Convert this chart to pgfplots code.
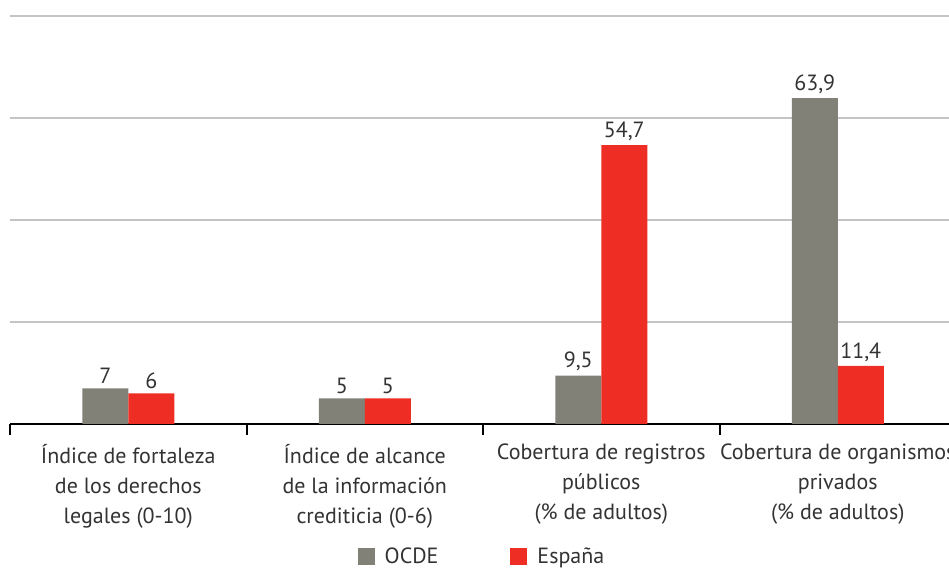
\documentclass[border=0pt]{standalone}
\usepackage{pgfplots}
\pgfplotsset{compat=1.18}
\usepackage{fontspec}
\setmainfont{PT Sans}
\definecolor{ocde}{HTML}{818177}
\definecolor{esp}{HTML}{EE2E24}
\definecolor{txt}{HTML}{333333}
\definecolor{gridc}{HTML}{C4C4C6}
\begin{document}
\begin{tikzpicture}
\begin{axis}[
  scale only axis,
  width=473pt, height=204pt,
  xmin=-0.5, xmax=3.5,
  ymin=0, ymax=80,
  enlarge x limits=false,
  ybar=0pt, bar width=23pt,
  axis x line*=bottom, axis y line*=left,
  y axis line style={draw=none},
  x axis line style={black, line width=1pt},
  ytick={0,20,40,60,80}, yticklabels={},
  ytick style={draw=none},
  ymajorgrids, grid style={gridc, line width=1.2pt},
  xtick={0,1,2,3},
  xticklabels={
    {Índice de fortaleza\\de los derechos\\legales (0-10)},
    {Índice de alcance\\de la información\\crediticia (0-6)},
    {Cobertura de registros\\públicos\\(\% de adultos)},
    {Cobertura de organismos\\privados\\(\% de adultos)}},
  xticklabel style={align=center, font=\fontsize{11}{15}\selectfont, text=txt, yshift=-6.5pt},
  major x tick style={draw=none},
  minor xtick={-0.5,0.5,1.5,2.5,3.5},
  minor x tick style={black, line width=1pt},
  tick align=outside,
  minor tick length=5.5pt,
  major tick length=0pt,
  /pgf/number format/assume math mode=true,
  /pgf/number format/use comma,
  nodes near coords,
  every node near coord/.append style={font=\fontsize{11}{13}\selectfont, text=txt, inner sep=2pt},
  legend style={at={(0.5,-0.326)}, anchor=center, legend columns=2, draw=none,
    font=\fontsize{11}{13}\selectfont, text=txt,
    /tikz/every odd column/.append style={column sep=3pt},
    /tikz/every even column/.append style={column sep=34pt}},
  legend image code/.code={\fill[#1] (0pt,-4.25pt) rectangle (8.5pt,4.25pt);},
]
\addplot[fill=ocde, draw=none] coordinates {(0,7) (1,5) (2,9.5) (3,63.9)};
\addplot[fill=esp, draw=none] coordinates {(0,6) (1,5) (2,54.7) (3,11.4)};
\legend{OCDE, España}
\coordinate (bbsw) at (rel axis cs:-0.01057,-0.35784);
\coordinate (bbne) at (rel axis cs:0.99260,1.03922);
\end{axis}
\pgfresetboundingbox
\path[use as bounding box] (bbsw) rectangle (bbne);
\end{tikzpicture}
\end{document}
